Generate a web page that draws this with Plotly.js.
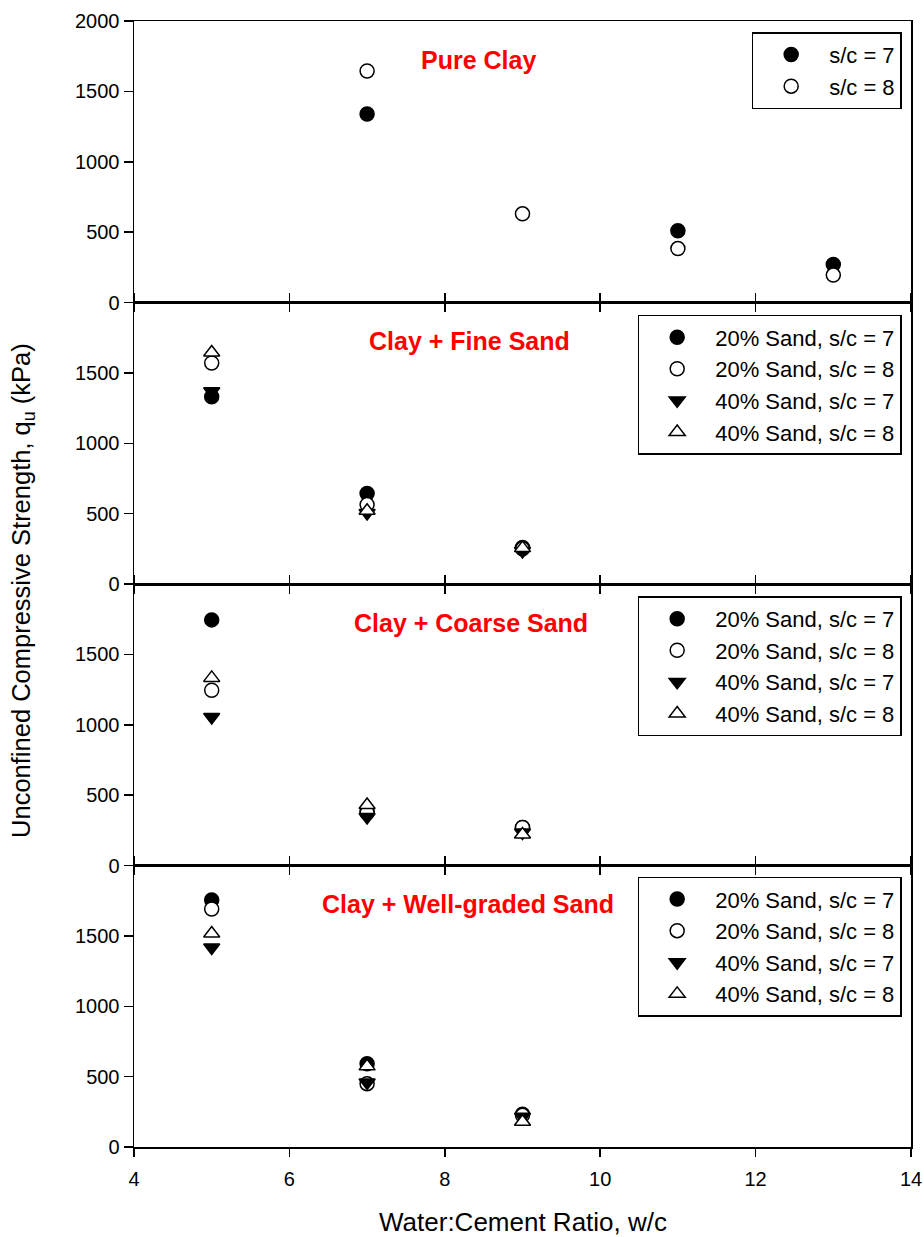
<!DOCTYPE html>
<html><head><meta charset="utf-8">
<script src="https://cdn.plot.ly/plotly-3.0.1.min.js"></script>
<style>html,body{margin:0;padding:0;background:#fff}</style>
</head><body><div id="chart" style="width:924px;height:1237px"></div>
<script>
// ---- data ----
const wcPure = [7, 9, 11, 13];
const pureSC7 = [1340, null, 510, 270];
const pureSC8 = [1645, 630, 383, 195];

const wcSand = [5, 7, 9];
const fine20SC7 = [1330, 643, 260];
const fine20SC8 = [1570, 564, 250];
const fine40SC7 = [1370, 505, 235];
const fine40SC8 = [1645, 520, 255];

const coarse20SC7 = [1745, 385, 270];
const coarse20SC8 = [1245, 375, 270];
const coarse40SC7 = [1055, 345, 235];
const coarse40SC8 = [1333, 430, 220];

const well20SC7 = [1755, 592, 232];
const well20SC8 = [1691, 450, 225];
const well40SC7 = [1417, 458, 215];
const well40SC8 = [1517, 573, 180];

const panelTitles = ["Pure Clay", "Clay + Fine Sand", "Clay + Coarse Sand", "Clay + Well-graded Sand"];
const pureNames = ["s/c = 7", "s/c = 8"];
const sandNames = ["20% Sand, s/c = 7", "20% Sand, s/c = 8", "40% Sand, s/c = 7", "40% Sand, s/c = 8"];
const xTicks = [4, 6, 8, 10, 12, 14];
const yTicksTop = [0, 500, 1000, 1500, 2000];
const yTicksLow = [0, 500, 1000, 1500];

// ---- styles ----
const FONT = "Liberation Sans, Arial, Helvetica, sans-serif";
const styles = [
  {symbol: "circle", color: "black", size: 14},
  {symbol: "circle", color: "white", size: 14},
  {symbol: "triangle-down", color: "black", size: 14},
  {symbol: "triangle-up", color: "white", size: 14}
];
function mk(i) {
  const s = styles[i];
  return {symbol: s.symbol, color: s.color, size: s.size, line: {color: "black", width: 1.5}};
}
function tr(x, y, name, si, panel) {
  const suf = panel === 1 ? "" : String(panel);
  return {
    type: "scatter", mode: "markers", x: x, y: y, name: name,
    marker: mk(si), xaxis: "x" + suf, yaxis: "y" + suf,
    legend: "legend" + suf, showlegend: true
  };
}

const traces = [
  tr(wcPure, pureSC7, pureNames[0], 0, 1),
  tr(wcPure, pureSC8, pureNames[1], 1, 1),
  tr(wcSand, fine20SC7, sandNames[0], 0, 2),
  tr(wcSand, fine20SC8, sandNames[1], 1, 2),
  tr(wcSand, fine40SC7, sandNames[2], 2, 2),
  tr(wcSand, fine40SC8, sandNames[3], 3, 2),
  tr(wcSand, coarse20SC7, sandNames[0], 0, 3),
  tr(wcSand, coarse20SC8, sandNames[1], 1, 3),
  tr(wcSand, coarse40SC7, sandNames[2], 2, 3),
  tr(wcSand, coarse40SC8, sandNames[3], 3, 3),
  tr(wcSand, well20SC7, sandNames[0], 0, 4),
  tr(wcSand, well20SC8, sandNames[1], 1, 4),
  tr(wcSand, well40SC7, sandNames[2], 2, 4),
  tr(wcSand, well40SC8, sandNames[3], 3, 4)
];

const domains = [[0.75, 1], [0.5, 0.75], [0.25, 0.5], [0, 0.25]];
const legendTops = [0.990, 0.739, 0.489, 0.240];

const layout = {
  width: 924, height: 1237,
  margin: {l: 134, r: 13, t: 21, b: 90},
  paper_bgcolor: "white", plot_bgcolor: "white",
  font: {family: FONT, color: "black", size: 20},
  showlegend: true,
  annotations: []
};

for (let p = 1; p <= 4; p++) {
  const suf = p === 1 ? "" : String(p);
  layout["xaxis" + suf] = {
    range: [4, 14], tickvals: xTicks, ticks: "outside", ticklen: 8, tickwidth: 1.5,
    tickcolor: "black", showline: true, linecolor: "black", linewidth: 1.5,
    mirror: p === 1 ? true : "ticks", showgrid: false, zeroline: false,
    showticklabels: p === 4, tickfont: {size: 20, family: FONT},
    ticklabelstandoff: 5,
    anchor: "y" + suf, fixedrange: true
  };
  if (p !== 1) layout["xaxis" + suf].matches = "x";
  layout["yaxis" + suf] = {
    range: [0, 2000], tickvals: p === 1 ? yTicksTop : yTicksLow,
    ticks: "outside", ticklen: 9, tickwidth: 1.5, tickcolor: "black",
    showline: true, linecolor: "black", linewidth: 1.5, mirror: true,
    showgrid: false, zeroline: false, domain: domains[p - 1],
    tickfont: {size: 20, family: FONT}, anchor: "x" + suf, fixedrange: true
  };
  layout["legend" + suf] = {
    x: 0.988, xanchor: "right", y: legendTops[p - 1], yanchor: "top",
    bordercolor: "black", borderwidth: 1.5, bgcolor: "white",
    font: {size: 22, family: FONT}, itemwidth: 66, tracegroupgap: 0
  };
  layout.annotations.push({
    text: "<b>" + panelTitles[p - 1] + "</b>", showarrow: false,
    xref: "paper", x: [0.443, 0.432, 0.434, 0.430][p - 1], xanchor: "center",
    yref: "y" + suf + " domain", y: 0.862, yanchor: "middle",
    font: {size: 25, color: "#ff0000", family: FONT}
  });
}

layout.annotations.push({
  text: "Unconfined Compressive Strength, q<sub>u</sub> (kPa)", showarrow: false,
  xref: "paper", x: -0.1429, xanchor: "center", yref: "paper", y: 0.4947, yanchor: "middle",
  textangle: -90, font: {size: 25.5, family: FONT}
});
layout.annotations.push({
  text: "Water:Cement Ratio, w/c", showarrow: false,
  xref: "paper", x: 0.5, xanchor: "center", yref: "paper", y: -0.0666, yanchor: "middle",
  font: {size: 26, family: FONT}
});

Plotly.newPlot("chart", traces, layout, {displayModeBar: false, staticPlot: true});
</script>
</body></html>
